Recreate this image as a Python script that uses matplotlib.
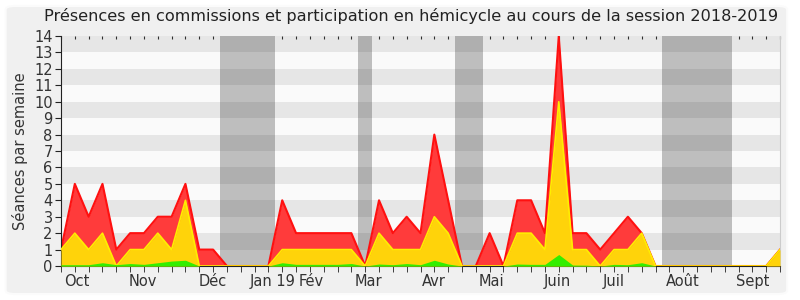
import matplotlib
matplotlib.use("Agg")
import matplotlib.pyplot as plt
from matplotlib.patches import FancyBboxPatch
import numpy as np

plt.rcParams['font.family'] = ['DejaVu Sans']

# weekly values, session 2018-2019 (week 0 = early Oct)
total = [1, 5, 3, 5, 1, 2, 2, 3, 3, 5, 1, 1, 0, 0, 0, 0, 4, 2, 2, 2,
         2, 2, 0, 4, 2, 3, 2, 8, 4, 0, 0, 2, 0, 4, 4, 2, 14, 2, 2, 1,
         2, 3, 2, 0, 0, 0, 0, 0, 0, 0, 0, 0, 1]
hemicycle = [1, 2, 1, 2, 0, 1, 1, 2, 1, 4, 0, 0, 0, 0, 0, 0, 1, 1, 1, 1,
             1, 1, 0, 2, 1, 1, 1, 3, 2, 0, 0, 0, 0, 2, 2, 1, 10, 1, 1, 0,
             1, 1, 2, 0, 0, 0, 0, 0, 0, 0, 0, 0, 1]
interventions = [0.08, 0.08, 0.08, 0.2, 0.08, 0.15, 0.1, 0.2, 0.3, 0.35,
                 0, 0, 0, 0, 0, 0, 0.2, 0.1, 0.1, 0.1,
                 0.1, 0.15, 0, 0.12, 0.08, 0.15, 0.08, 0.35, 0.12, 0,
                 0, 0, 0, 0.12, 0.1, 0.1, 0.7, 0.06, 0.05, 0,
                 0.1, 0.08, 0.2, 0, 0, 0, 0, 0, 0, 0, 0, 0, 0]
# vacation weeks (first, last)
vacations = [(12, 15), (22, 22), (29, 30), (44, 48)]
months = ['Oct', 'Nov', 'Déc', 'Jan 19', 'Fév', 'Mar', 'Avr', 'Mai',
          'Juin', 'Juil', 'Août', 'Sept']
month_pos = [1.14, 5.93, 10.97, 15.33, 18.12, 22.2, 26.97, 31.14,
             35.9, 39.98, 44.95, 49.99]

weeks = np.arange(len(total))

fig = plt.figure(figsize=(8, 3), dpi=100, facecolor='white')
fig.patches.append(FancyBboxPatch((0.007, 0.02), 0.977, 0.96,
                                  boxstyle='round,pad=0,rounding_size=0.012',
                                  transform=fig.transFigure, facecolor='#f0f0f0',
                                  edgecolor='#fbfbfb', linewidth=1.5, zorder=-10))
ax = fig.add_axes([0.07625, 0.1133, 0.89875, 0.7667])
ax.set_facecolor('#fafafa')

for a, b in vacations:
    ax.axvspan(a - 0.5, b + 0.5, color='#bebebe', lw=0, zorder=0.5)
for y in range(1, 14, 2):
    ax.axhspan(y, y + 1, color='black', alpha=0.08, lw=0, zorder=1)

ax.fill_between(weeks, total, color='#ff3b3b', lw=0, zorder=2)
ax.plot(weeks, total, color='#ff1010', lw=1.5, zorder=2.1)
ax.fill_between(weeks, hemicycle, color='#ffd30a', lw=0, zorder=3)
ax.plot(weeks, hemicycle, color='#ffee00', lw=1.2, zorder=3.1)
ax.fill_between(weeks, interventions, color='#33ee00', lw=0, zorder=4)

ax.set_xlim(0, len(total) - 1)
ax.set_ylim(0, 14)
ax.set_yticks(range(0, 15))
ax.set_xticks(month_pos)
ax.set_xticklabels(months)
ax.set_xticks(weeks, minor=True)
ax.tick_params(axis='x', which='major', length=0, pad=6, labelsize=10.5)
ax.tick_params(axis='x', which='minor', length=4, color='#222222',
               bottom=True, top=False)
ax.tick_params(axis='y', length=4, labelsize=10.5, color='#222222', pad=2)
for lab in ax.get_yticklabels() + ax.get_xticklabels():
    lab.set_color('#333333')

# small marks along the top edge
sec = ax.secondary_xaxis('top')
sec.set_xticks(weeks)
sec.set_xticklabels([])
sec.tick_params(direction='in', length=2, width=0.8, color='#333333')
sec.spines['top'].set_visible(False)

ax.spines['top'].set_visible(False)
ax.spines['right'].set_color('#cccccc')
ax.spines['left'].set_color('#222222')
ax.spines['bottom'].set_color('#222222')

ax.set_ylabel('Séances par semaine', fontsize=10.5, color='#333333', labelpad=4)
fig.text(0.514, 0.945, 'Présences en commissions et participation en hémicycle '
         'au cours de la session 2018-2019', ha='center', va='center',
         fontsize=11.6, color='#222222')

plt.savefig('out.png', dpi=100, facecolor=fig.get_facecolor())
plt.close()
